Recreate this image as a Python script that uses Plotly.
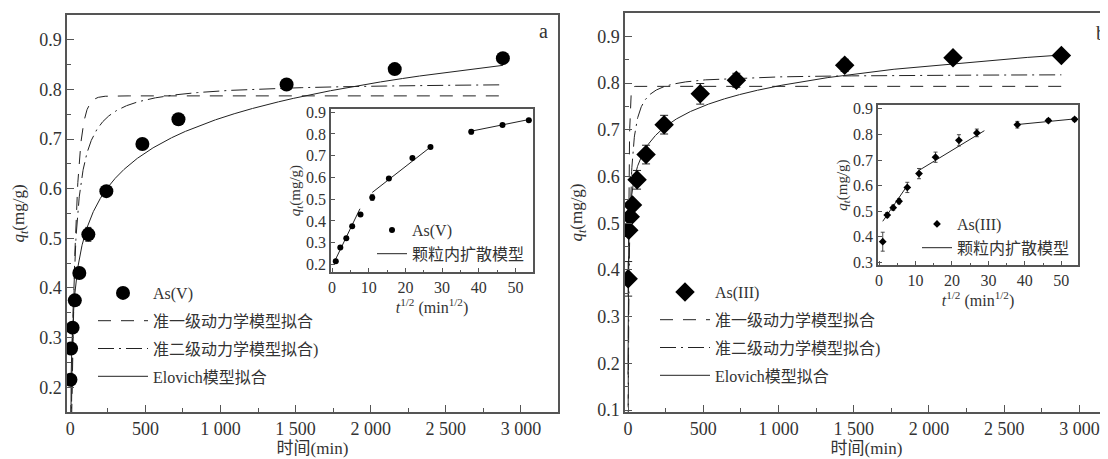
import numpy as np
import plotly.graph_objects as go

# ---------------- data ----------------
t_min = [1, 5, 15, 30, 60, 120, 240, 480, 720, 1440, 2160, 2880]
qt_as5 = [0.215, 0.278, 0.320, 0.375, 0.430, 0.508, 0.595, 0.690, 0.740, 0.810, 0.841, 0.863]
err_as5 = [0.005, 0.005, 0.005, 0.006, 0.006, 0.014, 0.008, 0.006, 0.006, 0.010, 0.006, 0.006]
qt_as3 = [0.381, 0.485, 0.514, 0.539, 0.593, 0.647, 0.711, 0.777, 0.806, 0.838, 0.854, 0.859]
err_as3 = [0.037, 0.010, 0.010, 0.010, 0.020, 0.020, 0.020, 0.022, 0.015, 0.013, 0.008, 0.007]

# model parameters
pfo_a = dict(qe=0.787, k=0.030)
pso_a = dict(qe=0.816, k=0.0515)
elo_a = dict(a=0.048, b=0.1005)
pfo_b = dict(qe=0.793, k=0.19)
pso_b = dict(qe=0.820, k=0.1463)
elo_b = dict(a=0.363, b=0.0624)

# intra-particle diffusion segments: (slope, intercept, x_start, x_end) in t^0.5 units
ipd_a = [(0.0350, 0.190, 0.5, 7.6), (0.01315, 0.387, 10.95, 27.3), (0.0034, 0.684, 37.9, 53.7)]
ipd_b = [(0.0207, 0.440, 1.0, 7.75), (0.00864, 0.565, 10.95, 28.9), (0.00139, 0.786, 37.9, 53.7)]

legend_main = ["准一级动力学模型拟合", "准二级动力学模型拟合)", "Elovich模型拟合"]
legend_inset = "颗粒内扩散模型"

FONT = "Liberation Serif, Times New Roman, Noto Sans CJK SC, serif"
TXT = "#333333"
AX = "#555555"
DASH = "13px,10px"
DASHDOT = "16px,5px,2px,5px"

t_grid = np.concatenate([np.linspace(0.05, 10, 400), np.linspace(10, 2880, 2000)])
sqrt_t = np.sqrt(np.array(t_min, dtype=float))


def pfo(p, t):
    return p["qe"] * (1 - np.exp(-p["k"] * t))


def pso(p, t):
    return p["k"] * p["qe"] ** 2 * t / (1 + p["k"] * p["qe"] * t)


def elovich(p, t):
    return p["a"] + p["b"] * np.log(t)


fig = go.Figure()


def add_main(xa, ya, leg, q, err, name, symbol, size, pf, ps, el, capw):
    fig.add_trace(go.Scatter(x=t_grid, y=pfo(pf, t_grid), mode="lines", xaxis=xa, yaxis=ya,
                             line=dict(color="#222", width=1, dash=DASH), name=legend_main[0],
                             legend=leg, legendrank=2, legendgroup=leg + "b"))
    fig.add_trace(go.Scatter(x=t_grid, y=pso(ps, t_grid), mode="lines", xaxis=xa, yaxis=ya,
                             line=dict(color="#222", width=1, dash=DASHDOT), name=legend_main[1],
                             legend=leg, legendrank=3, legendgroup=leg + "c"))
    fig.add_trace(go.Scatter(x=t_grid, y=elovich(el, t_grid), mode="lines", xaxis=xa, yaxis=ya,
                             line=dict(color="#222", width=1), name=legend_main[2],
                             legend=leg, legendrank=4, legendgroup=leg + "d"))
    fig.add_trace(go.Scatter(x=t_min, y=q, mode="markers", xaxis=xa, yaxis=ya, name=name,
                             marker=dict(symbol=symbol, size=size, color="black"),
                             error_y=dict(type="data", array=err, color="#222", thickness=1, width=capw),
                             legend=leg, legendrank=1, legendgroup=leg + "a"))


def add_inset(xa, ya, leg, q, err, name, segs, symbol):
    for i, (m, c, x0, x1) in enumerate(segs):
        xs = np.array([x0, x1])
        fig.add_trace(go.Scatter(x=xs, y=m * xs + c, mode="lines", xaxis=xa, yaxis=ya,
                                 line=dict(color="#222", width=1), name=legend_inset,
                                 legend=leg, legendrank=2, showlegend=(i == 0),
                                 legendgroup=leg + "b"))
    fig.add_trace(go.Scatter(x=sqrt_t, y=q, mode="markers", xaxis=xa, yaxis=ya, name=name,
                             marker=dict(symbol=symbol, size=6, color="black"),
                             error_y=dict(type="data", array=err, color="#222", thickness=0.8, width=2),
                             legend=leg, legendrank=1, legendgroup=leg + "a"))


add_main("x", "y", "legend", qt_as5, err_as5, "As(V)", "circle", 14, pfo_a, pso_a, elo_a, 3)
add_inset("x2", "y2", "legend2", qt_as5, err_as5, "As(V)", ipd_a, "circle")
add_main("x3", "y3", "legend3", qt_as3, err_as3, "As(III)", "diamond", 15, pfo_b, pso_b, elo_b, 4)
add_inset("x4", "y4", "legend4", qt_as3, err_as3, "As(III)", ipd_b, "diamond")


def axis(size, ticklen, **kw):
    d = dict(showline=True, linecolor=AX, linewidth=1.5, ticks="inside", ticklen=ticklen,
             tickcolor=AX, tickwidth=1.3, showgrid=False, zeroline=False, automargin=False,
             tickfont=dict(family=FONT, size=size, color=TXT))
    d.update(kw)
    return d


# the page body adds an 8px offset, so the figure is 8px smaller and shifted
OFF = 8
W, H = 1108 - OFF, 459 - OFF


def px(x):
    return (x - OFF) / W


def py(y):
    return 1 - (y - OFF) / H


def dx(a, b):
    return [px(a), min(px(b), 1.0)]


def dy(top, bottom):
    return [py(bottom), py(top)]


ytitle_main = "<i>q</i><sub><i>t</i></sub>(mg/g)"
xtitle_main = "时间(min)"
xtitle_inset = "<i>t</i><sup>1/2</sup> (min<sup>1/2</sup>)"
tfont = dict(family=FONT, size=17, color=TXT)
tfont_i = dict(family=FONT, size=16, color=TXT)
lfont = dict(family=FONT, size=16, color=TXT)


def leg(x, y, iw, gap):
    return dict(x=px(x), y=py(y), xanchor="left", yanchor="top", bgcolor="rgba(0,0,0,0)",
                font=lfont, itemwidth=iw, traceorder="grouped", tracegroupgap=gap)


fig.update_layout(
    width=W, height=H, margin=dict(l=0, r=0, t=0, b=0, autoexpand=False),
    paper_bgcolor="white", plot_bgcolor="rgba(0,0,0,0)",
    separators=". ",
    font=dict(family=FONT, color=TXT),
    xaxis=axis(18, 7, domain=dx(67, 558), range=[-22, 3247], dtick=500, tick0=0, anchor="y",
               mirror=True, separatethousands=True,
               minor=dict(ticks="inside", ticklen=4, dtick=250, tickcolor=AX),
               title=dict(text=xtitle_main, font=tfont, standoff=2)),
    yaxis=axis(18, 7, domain=dy(15, 412), range=[0.15, 0.95], dtick=0.1, tick0=0.1, tickformat=".1f",
               anchor="x", mirror=True,
               minor=dict(ticks="inside", ticklen=4, dtick=0.05, tickcolor=AX),
               title=dict(text=ytitle_main, font=tfont, standoff=10)),
    xaxis2=axis(16, 4, domain=dx(331, 533), range=[-0.3, 54.8], dtick=10, tick0=0, anchor="y2",
                mirror=True, minor=dict(ticks="inside", ticklen=2, dtick=5, tickcolor=AX),
                title=dict(text=xtitle_inset, font=tfont_i, standoff=3)),
    yaxis2=axis(16, 4, domain=dy(109, 272), range=[0.165, 0.915], dtick=0.1, tick0=0.1,
                tickformat=".1f", anchor="x2", mirror=True,
                title=dict(text=ytitle_main, font=dict(family=FONT, size=15, color=TXT), standoff=2)),
    xaxis3=axis(18, 7, domain=dx(625, 1108), range=[-20, 3190], dtick=500, tick0=0, anchor="y3",
                mirror=True, separatethousands=True,
                minor=dict(ticks="inside", ticklen=4, dtick=250, tickcolor=AX),
                title=dict(text=xtitle_main, font=tfont, standoff=2)),
    yaxis3=axis(18, 7, domain=dy(13, 412), range=[0.096, 0.95], dtick=0.1, tick0=0.1,
                tickformat=".1f", anchor="x3", mirror=False,
                minor=dict(ticks="inside", ticklen=4, dtick=0.05, tickcolor=AX),
                title=dict(text=ytitle_main, font=tfont, standoff=10)),
    xaxis4=axis(16, 4, domain=dx(878, 1078), range=[-0.3, 54.6], dtick=10, tick0=0, anchor="y4",
                mirror=True, minor=dict(ticks="inside", ticklen=2, dtick=5, tickcolor=AX),
                title=dict(text=xtitle_inset, font=tfont_i, standoff=3)),
    yaxis4=axis(16, 4, domain=dy(105, 265), range=[0.29, 0.915], dtick=0.1, tick0=0.1,
                tickformat=".1f", anchor="x4", mirror=True,
                title=dict(text=ytitle_main, font=dict(family=FONT, size=15, color=TXT), standoff=2)),
    legend=leg(93, 276, 50, 4),
    legend2=leg(372, 213, 30, 0),
    legend3=leg(655, 275, 50, 4),
    legend4=leg(917, 207, 30, 0),
    annotations=[
        dict(text="a", x=px(543), y=py(31), xref="paper", yref="paper", showarrow=False,
             xanchor="center", yanchor="middle", font=dict(family=FONT, size=20, color=TXT)),
        dict(text="b", x=px(1101), y=py(33), xref="paper", yref="paper", showarrow=False,
             xanchor="center", yanchor="middle", font=dict(family=FONT, size=20, color=TXT)),
    ],
)

fig.write_html("out.html")
